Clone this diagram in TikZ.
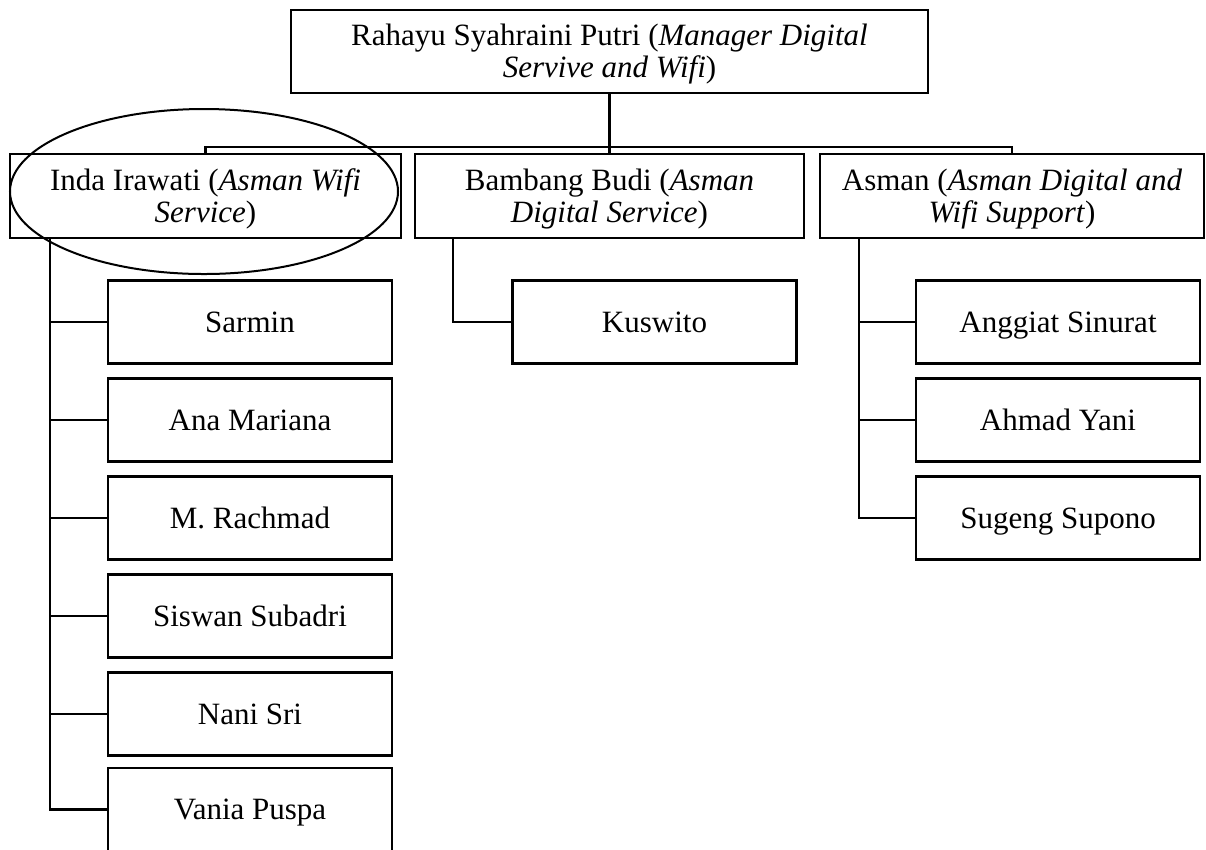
\documentclass[tikz,border=0pt]{standalone}
\usepackage{fontspec}
\setmainfont{Liberation Serif}
\usetikzlibrary{positioning}
\usetikzlibrary{shapes.geometric}

\begin{document}
\begin{tikzpicture} [x=0.4pt, y=-0.4pt, node distance=6pt, line width=1pt,
  every node/.style={font=\fontsize{12.4}{12.8}\selectfont, inner sep=0pt, outer sep=0pt, align=center},
  box/.style={draw, minimum height=33.6pt, text height=21pt, text depth=0pt},
  staff/.style={draw, minimum width=113.6pt, minimum height=33.2pt, text height=8.2pt, text depth=0pt}]

\useasboundingbox (0,0) rectangle (1206,849);

\node [box, minimum width=254.8pt, minimum height=33.2pt] (M) at (609.5,51.5)
  {Rahayu Syahraini Putri (\textit{Manager Digital}\\\textit{Servive and Wifi})};

\node [box, minimum width=156.4pt] (W) at (205.5,196) {Inda Irawati (\textit{Asman Wifi}\\\textit{Service})};
\node [box, minimum width=155.6pt] (D) at (609.5,196) {Bambang Budi (\textit{Asman}\\\textit{Digital Service})};
\node [box, minimum width=153.6pt] (S) at (1012,196) {Asman (\textit{Asman Digital and}\\\textit{Wifi Support})};

\node [staff] (w1) at (250,322) {Sarmin};
\node [staff, below=of w1] (w2) {Ana Mariana};
\node [staff, below=of w2] (w3) {M. Rachmad};
\node [staff, below=of w3] (w4) {Siswan Subadri};
\node [staff, below=of w4] (w5) {Nani Sri};
\node [staff, below=5pt of w5] (w6) {Vania Puspa};

\node [staff] (d1) at (654.5,322) {Kuswito};

\node [staff] (s1) at (1058,322) {Anggiat Sinurat};
\node [staff, below=of s1] (s2) {Ahmad Yani};
\node [staff, below=of s2] (s3) {Sugeng Supono};

\draw (M) -- (D);
\draw (W.north) -- ++(0,-7) -| (S.north);

\draw ([xshift=16pt]W.south west) coordinate (wt) |- (w6.west);
\foreach \n in {w1,w2,w3,w4,w5}
  \draw (\n.west) -- (\n.west -| wt);

\draw ([xshift=15.2pt]D.south west) |- (d1.west);

\draw ([xshift=15.6pt]S.south west) coordinate (st) |- (s3.west);
\foreach \n in {s1,s2}
  \draw (\n.west) -- (\n.west -| st);

\node [draw, ellipse, line width=0.8pt, minimum width=155.2pt, minimum height=66pt] (focus) at (204,191.5) {};

\end{tikzpicture}
\end{document}
